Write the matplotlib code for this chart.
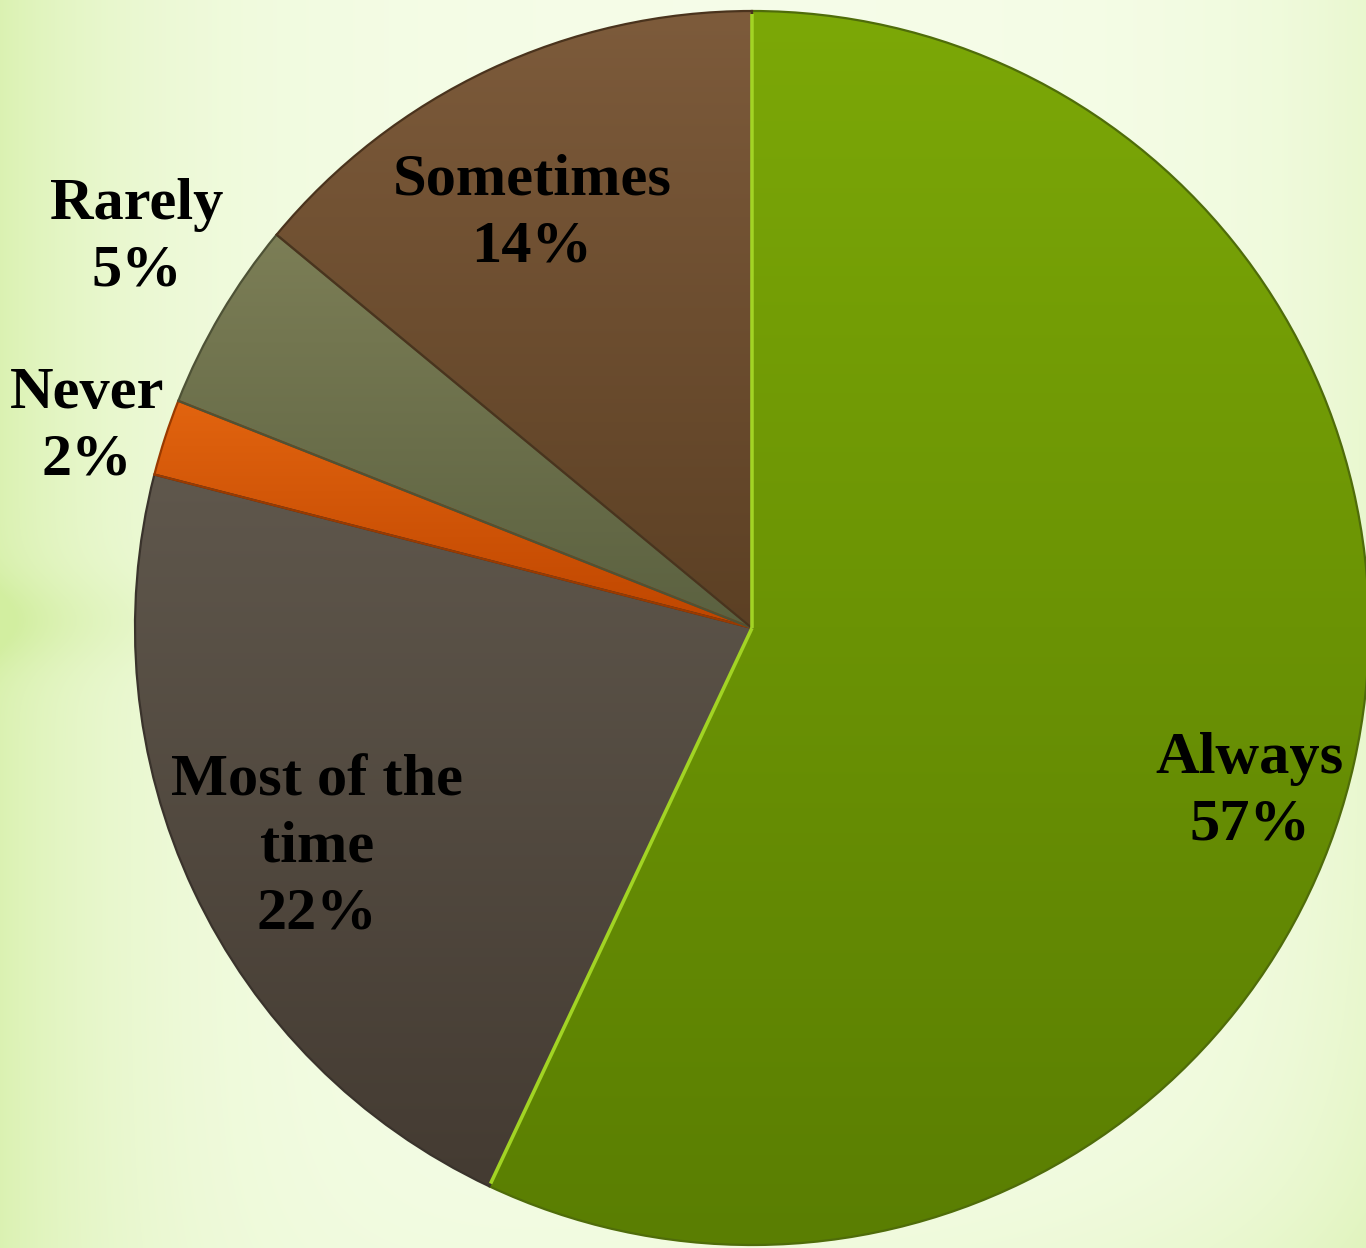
import numpy as np
import matplotlib.pyplot as plt
from matplotlib.colors import to_rgb

# data
categories = ['Always', 'Most of the time', 'Never', 'Rarely', 'Sometimes']
percents = [57, 22, 2, 5, 14]
label_texts = ['Always\n57%', 'Most of the\ntime\n22%', 'Never\n2%', 'Rarely\n5%', 'Sometimes\n14%']

# styling (top / bottom of each slice's vertical gradient)
top_colors = ['#7ca807', '#5f574c', '#e2640f', '#7c7e56', '#7d5b3b']
bottom_colors = ['#5a7e02', '#443b32', '#bf4600', '#5b6140', '#5c4024']
edge_colors = ['#4f6c0a', '#3a332c', '#9a3a00', '#4e5236', '#4a331d']

W, H = 1366, 1248
cx, cy, rad = 752, H - 628, 617
# label anchor points in pixel coords (x, y from top)
label_pos = [(1250, 792), (317, 848), (87, 427), (137, 238), (532, 214)]

fig = plt.figure(figsize=(W / 100, H / 100), dpi=100)
ax = fig.add_axes([0, 0, 1, 1])

# pale green background, greener toward the left edge and the corners
yy, xx = np.mgrid[0:H, 0:W].astype(float)
g = (0.75 * np.exp(-xx / 160.0)
     + 0.35 * np.exp(-(W - xx) / 140.0)
     + 0.25 * np.exp(-(H - yy) / 120.0) * (xx / W)
     + 0.35 * np.exp(-((yy - 620) / 45.0) ** 2) * np.exp(-xx / 140.0))
g = np.clip(g, 0, 1)
inner = np.array(to_rgb('#f6fde9'))
outer = np.array(to_rgb('#d2eea0'))
bg = inner[None, None, :] * (1 - g[..., None]) + outer[None, None, :] * g[..., None]
ax.imshow(bg, extent=(0, W, 0, H), origin='upper', zorder=0, interpolation='bilinear')

wedges, _ = ax.pie(percents, startangle=90, counterclock=False,
                   center=(cx, cy), radius=rad,
                   wedgeprops=dict(linewidth=1.6))

for w, c_top, c_bot, ec in zip(wedges, top_colors, bottom_colors, edge_colors):
    bb = w.get_path().get_extents()
    t = np.linspace(0, 1, 256)[:, None]
    ct, cb = np.array(to_rgb(c_top)), np.array(to_rgb(c_bot))
    grad = ct[None, :] * (1 - t) + cb[None, :] * t
    grad = np.repeat(grad[:, None, :], 2, axis=1)
    im = ax.imshow(grad, extent=(bb.x0, bb.x1, bb.y0, bb.y1), origin='upper',
                   zorder=2, interpolation='bilinear', aspect='auto')
    im.set_clip_path(w)
    w.set_facecolor('none')
    w.set_edgecolor(ec)
    w.set_zorder(3)

# bright bevel line along the straight edges of the big slice
w0 = wedges[0]
for ang in (w0.theta1, w0.theta2):
    a = np.deg2rad(ang)
    ax.plot([cx, cx + (rad - 3) * np.cos(a)], [cy, cy + (rad - 3) * np.sin(a)],
            color='#a2d424', lw=2.6, zorder=4, solid_capstyle='butt')

for txt, (px, py) in zip(label_texts, label_pos):
    ax.text(px, H - py, txt, ha='center', va='center', fontsize=43.5,
            fontweight='bold', family='Liberation Serif', color='black',
            linespacing=1.3, zorder=5)

ax.set_xlim(0, W)
ax.set_ylim(0, H)
ax.set_aspect('equal')
ax.axis('off')

fig.savefig('out.png', dpi=100)
